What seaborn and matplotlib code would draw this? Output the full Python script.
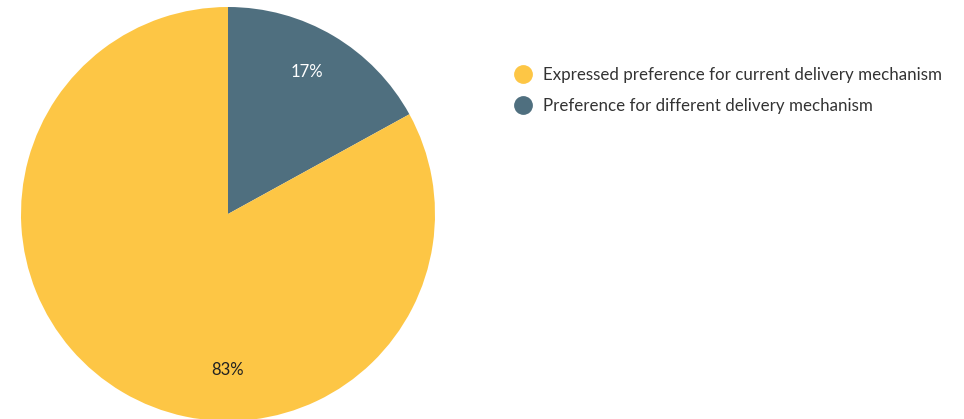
import matplotlib
matplotlib.use("Agg")
import matplotlib.pyplot as plt
from matplotlib.lines import Line2D
import seaborn as sns

categories = ["Preference for different delivery mechanism",
              "Expressed preference for current delivery mechanism"]
values = [17, 83]
labels = ["17%", "83%"]
legend_order = [1, 0]
colors = ["#4F6F7F", "#FDC645"]

sns.set_theme(style="white")
plt.rcParams['font.family'] = ['Lato', 'DejaVu Sans']

W, H = 964, 419
fig = plt.figure(figsize=(W / 100, H / 100), dpi=100)
cx, cy, r = 228, 214, 207
ax = fig.add_axes([(cx - r) / W, (H - cy - r) / H, 2 * r / W, 2 * r / H])
wedges, _ = ax.pie(values, colors=colors, startangle=90, counterclock=False,
                   wedgeprops=dict(linewidth=0))
ax.set_xlim(-1, 1)
ax.set_ylim(-1, 1)
ax.set_aspect("equal")

# labels
ax.text(0.38, 0.685, labels[0], color="white", fontsize=12, ha="center", va="center")
ax.text(0.0, -0.755, labels[1], color="#222222", fontsize=12, ha="center", va="center")

fs = 12.15
handles = [Line2D([0], [0], marker="o", linestyle="", markersize=12.5,
                  markerfacecolor=colors[i], markeredgecolor=colors[i]) for i in legend_order]
fig.legend(handles, [categories[i] for i in legend_order],
           loc="upper left", bbox_to_anchor=(513 / W, 1 - 67 / H), frameon=False,
           fontsize=fs, labelcolor="#333333", handletextpad=0.55, labelspacing=0.87,
           handlelength=1.2, borderaxespad=0, borderpad=0)

fig.savefig("out.png", dpi=100)
